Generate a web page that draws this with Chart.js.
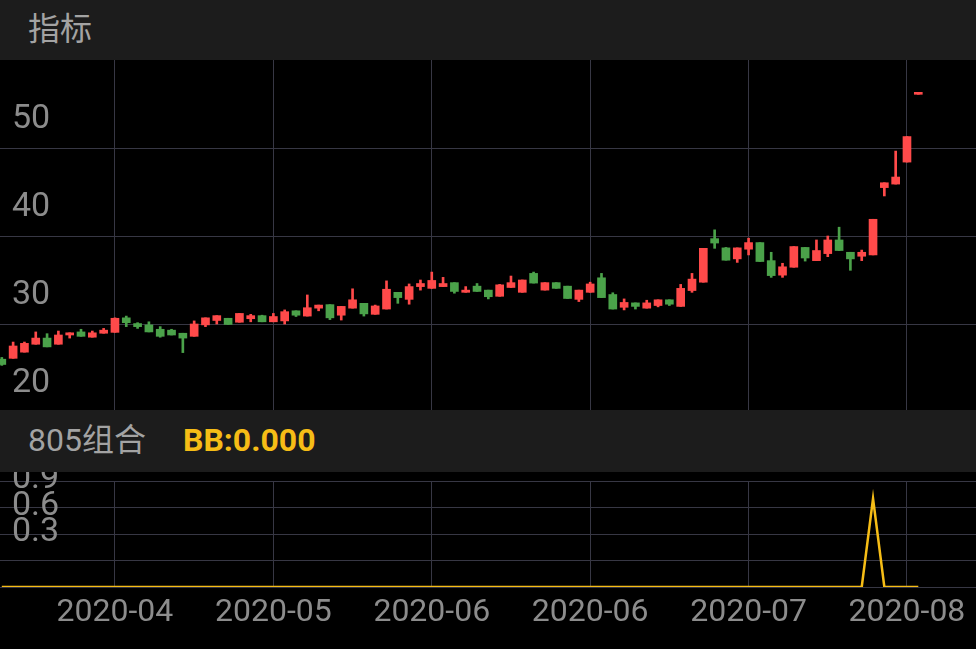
<!DOCTYPE html>
<html>
<head>
<meta charset="utf-8">
<script src="https://cdn.jsdelivr.net/npm/chart.js@4.4.0/dist/chart.umd.min.js"></script>
<style>
html,body{margin:0;padding:0;background:#000;width:976px;height:649px;overflow:hidden;font-family:Roboto,"Noto Sans CJK SC",sans-serif}
.bar{position:absolute;left:0;width:976px;background:#1c1c1c;color:#a3a3a3;font-size:32px;box-sizing:border-box;padding-left:28px;z-index:2}
#top{top:0;height:60px;line-height:58px}
#mid{top:410px;height:62px;line-height:60px}
#bb{color:#f6bd16;font-weight:bold;margin-left:37px}
canvas{position:absolute;left:0}
#main{top:60px}
#sub{top:472px}
</style>
</head>
<body>
<div class="bar" id="top">指标</div>
<canvas id="main" width="976" height="352"></canvas>
<div class="bar" id="mid">805组合<span id="bb">BB:0.000</span></div>
<canvas id="sub" width="976" height="177"></canvas>
<script>
// daily candles, left to right
const open  = [26.0,26.1,26.8,27.7,28.4,27.7,28.75,29.1,28.5,28.95,29.05,30.7,30.05,29.9,29.4,29.3,28.95,28.6,29.9,30.4,
  30.65,30.2,30.6,30.95,30.25,30.35,31.5,30.9,31.8,32.2,31.0,31.8,32.35,31.1,31.7,33.6,32.8,34.25,34.05,34.25,
  34.7,33.6,34.3,33.85,33.15,34.15,33.6,35.75,33.85,34.7,34.3,32.8,33.6,35.25,33.35,31.9,32.4,31.8,32.1,32.75,
  32.0,33.8,34.75,39.7,38.65,37.4,38.5,39.25,37.2,35.55,36.45,38.7,37.2,38.0,39.55,38.15,37.7,37.85,45.5,45.9,
  48.4,56.1]
const close = [25.4,27.5,27.8,28.4,27.4,28.75,29.0,28.6,29.0,29.3,30.65,30.15,29.7,29.1,28.6,28.75,28.4,30.0,30.7,30.95,
  29.95,31.2,30.95,30.25,30.85,31.4,31.0,31.85,32.15,30.7,32.0,32.75,31.15,32.05,33.95,33.0,34.25,34.6,34.95,34.6,
  33.7,33.85,33.7,33.1,34.45,34.7,35.0,34.65,34.7,34.05,32.9,33.85,34.55,33.0,31.7,32.45,32.0,32.4,32.75,32.25,
  34.05,35.1,38.6,39.2,37.25,38.65,39.25,37.1,35.5,36.5,38.8,37.5,38.35,39.55,38.35,37.4,38.15,41.9,46.05,46.7,
  51.3,56.3]
const high  = [26.2,27.95,27.95,29.1,28.9,29.2,29.0,29.4,29.2,29.5,30.7,30.9,30.15,30.25,29.7,29.4,28.95,30.35,30.7,30.95,
  30.65,31.2,31.1,31.0,31.2,31.6,31.5,33.3,32.15,32.2,32.0,34.0,32.35,32.15,34.9,33.6,34.55,35.0,35.9,35.3,
  34.7,34.25,34.6,33.85,34.5,35.45,35.0,35.9,34.7,34.7,34.3,33.85,34.75,35.75,33.55,32.85,32.4,32.7,32.75,32.75,
  34.5,35.75,38.6,40.7,38.7,38.65,39.75,39.25,38.15,36.9,38.8,38.7,39.55,40.0,41.0,38.15,38.4,41.9,46.05,49.65,
  51.3,56.3]
const low   = [25.3,26.1,26.8,27.7,27.4,27.7,28.4,28.6,28.5,28.95,29.05,29.7,29.5,29.1,28.5,28.75,26.75,28.6,29.7,30.0,
  29.95,30.2,30.25,30.25,30.25,30.0,30.85,30.9,31.5,30.5,30.45,31.8,30.9,31.1,31.7,32.35,32.25,33.85,34.05,34.25,
  33.5,33.6,33.7,32.85,33.15,34.15,33.6,34.65,33.85,34.05,32.9,32.55,33.6,33.0,31.7,31.6,31.7,31.8,31.95,32.1,
  32.0,33.6,34.75,38.6,37.25,37.0,37.85,37.1,35.3,35.3,36.45,37.15,37.2,37.65,38.35,36.1,37.2,37.85,44.55,45.9,
  48.4,56.1]
const bb = [0,0,0,0,0,0,0,0,0,0,0,0,0,0,0,0,0,0,0,0,
  0,0,0,0,0,0,0,0,0,0,0,0,0,0,0,0,0,0,0,0,
  0,0,0,0,0,0,0,0,0,0,0,0,0,0,0,0,0,0,0,0,
  0,0,0,0,0,0,0,0,0,0,0,0,0,0,0,0,0,1,0,0,
  0,0]

const xTickPos = [10,24,38,52,66,80]
const xTickLabels = ["2020-04","2020-05","2020-06","2020-06","2020-07","2020-08"]
const priceTicks = [20,30,40,50]
const bbTicks = [0,0.3,0.6,0.9,1.2]

const xMin = -0.16, xMax = 86.1
const RED = "#ff4a4a", GREEN = "#4ba24a", GRID = "#373744", TXT = "#8c8c8c"

const colors = open.map((o,i) => close[i] >= o ? RED : GREEN)

// no extra room for labels that hang over the plot edges
function noPad(s){
  s.paddingTop = 0; s.paddingBottom = 0; s.paddingLeft = 0; s.paddingRight = 0
}

const xAxis = (showLabels) => ({
  type:"linear", min:xMin, max:xMax, offset:false,
  afterBuildTicks: s => { s.ticks = xTickPos.map(v => ({value:v})) },
  afterFit: s => { s.height = showLabels ? 62 : 0; noPad(s) },
  ticks:{display:showLabels, autoSkip:false, maxRotation:0, padding:7, color:TXT,
    font:{family:"Roboto", size:32},
    callback: v => xTickLabels[xTickPos.indexOf(v)]},
  grid:{color:GRID, drawTicks:false, offset:false},
  border:{display:false}
})

new Chart(document.getElementById("main"), {
  type:"bar",
  data:{datasets:[
    {data: open.map((o,i) => ({x:i, y:[low[i], high[i]]})), backgroundColor:colors, barThickness:2, grouped:false, minBarLength:1},
    {data: open.map((o,i) => ({x:i, y:[o, close[i]]})), backgroundColor:colors, barThickness:8, grouped:false, minBarLength:2}
  ]},
  options:{
    responsive:false, animation:false, devicePixelRatio:1,
    layout:{padding:0},
    plugins:{legend:{display:false}, tooltip:{enabled:false}},
    scales:{
      x: xAxis(false),
      y:{min:20, max:60,
        afterBuildTicks: s => { s.ticks = priceTicks.map(v => ({value:v})) },
        afterFit: s => { s.width = 0; noPad(s) },
        ticks:{mirror:true, autoSkip:false, padding:12, labelOffset:-29, color:TXT, font:{family:"Roboto", size:34}},
        grid:{color:GRID, drawTicks:false},
        border:{display:false}}
    }
  }
})

new Chart(document.getElementById("sub"), {
  type:"line",
  data:{datasets:[
    {data: bb.map((v,i) => ({x:i, y:v})), borderColor:"#f6bd16", borderWidth:2.5, pointRadius:0, tension:0}
  ]},
  options:{
    responsive:false, animation:false, devicePixelRatio:1,
    layout:{padding:{top:9}},
    plugins:{legend:{display:false}, tooltip:{enabled:false}},
    scales:{
      x: xAxis(true),
      y:{min:0, max:1.2,
        afterBuildTicks: s => { s.ticks = bbTicks.map(v => ({value:v})) },
        afterFit: s => { s.width = 0; noPad(s) },
        ticks:{mirror:true, autoSkip:false, padding:12, labelOffset:-28, color:TXT, font:{family:"Roboto", size:34},
          callback: v => (v === 0 || v > 1) ? "" : v.toFixed(1)},
        grid:{color:GRID, drawTicks:false},
        border:{display:false}}
    }
  }
})
</script>
</body>
</html>
